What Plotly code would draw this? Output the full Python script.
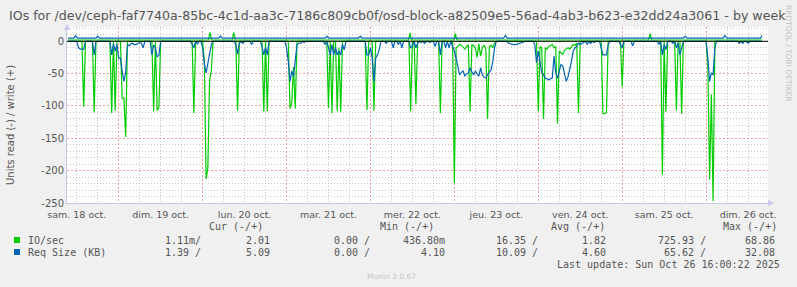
import plotly.graph_objects as go
import pandas as pd
import numpy as np

BASE = pd.Timestamp("2025-10-18 00:00")

day_labels = ["sam. 18 oct.", "dim. 19 oct.", "lun. 20 oct.", "mar. 21 oct.", "mer. 22 oct.",
              "jeu. 23 oct.", "ven. 24 oct.", "sam. 25 oct.", "dim. 26 oct."]
y_ticks = [-250, -200, -150, -100, -50, 0]

# hours since 2025-10-18 00:00, 30-minute samples; non-listed samples read as 0
io_read_hours = [14.0, 17.0, 22.0, 23.0, 25.0, 25.5, 26.0,
                 34.0, 35.0, 35.5, 45.5,
                 48.5, 49.0, 49.5, 50.0, 50.5, 58.0, 65.5, 66.5,
                 73.0, 73.5, 74.0, 74.5, 84.0, 85.0, 86.5, 87.0, 87.5,
                 95.0, 97.0, 107.5, 109.0, 116.0,
                 120.0, 120.5, 121.0, 121.5, 122.0, 122.5, 123.0, 123.5, 124.0, 124.5, 125.0, 125.5,
                 126.0, 126.5, 127.0, 127.5, 128.0, 128.5, 129.0, 129.5, 130.0, 130.5, 131.0, 131.5,
                 144.0, 144.5, 145.0, 145.5, 146.0, 146.5, 147.0, 147.5, 148.0, 148.5, 149.0, 149.5,
                 150.0, 150.5, 151.0, 151.5, 152.0, 152.5, 153.0, 153.5, 154.0, 154.5, 155.0, 155.5,
                 162.5, 163.0, 163.5, 168.0, 179.5, 180.5, 183.5, 185.0,
                 192.5, 193.0, 193.5, 194.0]
io_read_vals = [101, 110, 111, 107, 88, 88, 148,
                108, 107, 102, 111,
                30, 213, 196, 60, 45, 107, 109, 108,
                104, 95, 40, 104, 103, 111, 108, 10, 109,
                106, 107, 108, 97, 111,
                219, 10, 8, 5, 6, 10, 12, 8, 5, 108, 5, 7,
                10, 25, 4, 23, 10, 6, 12, 120, 8, 6, 10, 3,
                108, 8, 10, 120, 10, 12, 8, 6, 5, 10, 8, 127,
                15, 18, 20, 14, 12, 10, 12, 8, 5, 6, 3, 111,
                112, 112, 110, 70, 206, 109, 107, 112,
                39, 214, 82, 247]

rs_read_hours = [12.5, 13.0, 13.5, 14.0, 17.0,
                 22.0, 22.5, 23.0, 23.5, 24.0, 24.5, 25.0, 25.5, 26.0, 26.5, 27.0, 27.5, 28.0, 28.5,
                 29.0, 29.5, 30.0, 30.5, 31.0,
                 33.5, 34.0, 34.5, 35.0, 35.5, 45.0, 45.5, 46.5,
                 48.0, 48.5, 49.0, 49.5, 50.0, 50.5, 57.5, 58.0, 58.5, 59.5, 62.0,
                 65.0, 65.5, 66.0, 66.5,
                 72.0, 72.5, 73.0, 73.5, 74.0, 74.5, 75.0, 75.5, 76.0, 77.0,
                 83.0, 84.0, 84.5, 85.0, 85.5, 86.0, 86.5, 87.0, 87.5, 88.0, 88.5,
                 95.0, 95.5, 96.0, 96.5, 97.0, 97.5, 98.0, 98.5,
                 100.5, 102.5, 104.0, 105.0, 107.5, 108.0, 109.0, 109.5,
                 110.5, 111.5, 113.0, 114.5, 116.0, 117.5, 118.5,
                 119.5, 120.0, 120.5, 121.0, 121.5, 122.0, 122.5, 123.0, 123.5, 124.0, 124.5, 125.0,
                 125.5, 126.0, 126.5, 127.0, 127.5, 128.0, 128.5, 129.0, 129.5, 130.0, 130.5, 131.0, 131.5,
                 135.5, 136.0, 136.5, 137.0, 137.5, 138.0, 138.5, 139.0, 139.5,
                 143.0, 143.5, 144.0, 144.5, 145.0, 145.5, 146.0, 146.5, 147.0, 147.5, 148.0, 148.5,
                 149.0, 149.5, 150.0, 150.5, 151.0, 151.5, 152.0, 152.5, 153.0, 153.5, 154.0, 154.5,
                 155.0, 155.5, 156.0, 156.5, 157.0, 158.0, 159.0, 160.0,
                 162.0, 162.5, 163.0, 163.5, 164.0, 167.5, 168.0, 171.0,
                 178.5, 179.5, 180.0, 180.5, 182.5, 183.5, 184.0, 184.5, 185.0,
                 192.5, 193.0, 193.5, 194.0, 194.5, 201.5, 202.5, 204.0]
rs_read_vals = [10, 12, 12, 12, 21,
                21, 4, 15, 5, 26, 26, 46, 62, 49, 5, 7, 4, 3, 5,
                5, 3, 2, 3, 10,
                21, 6, 10, 24, 22, 4, 10, 4,
                10, 35, 49, 36, 20, 5, 5, 20, 3, 3, 5,
                8, 21, 10, 21,
                10, 31, 62, 46, 54, 26, 5, 3, 3, 2,
                5, 10, 21, 5, 21, 10, 21, 15, 21, 5, 13,
                21, 21, 10, 26, 62, 26, 21, 13,
                3, 10, 5, 10, 10, 8, 10, 3,
                2, 3, 2, 8, 21, 10, 10,
                8, 15, 26, 41, 52, 48, 46, 54, 50, 49, 41, 47,
                52, 46, 50, 54, 41, 52, 55, 57, 52, 48, 44, 31, 10,
                3, 4, 5, 5, 5, 4, 4, 3, 2,
                5, 33, 15, 30, 49, 52, 57, 58, 60, 58, 57, 23,
                49, 57, 45, 36, 38, 52, 62, 55, 45, 31, 15, 10,
                8, 3, 5, 3, 2, 5, 3, 2,
                10, 21, 21, 21, 5, 5, 10, 7,
                5, 21, 5, 13, 3, 10, 3, 21, 8,
                26, 62, 49, 52, 10, 3, 3, 3]

# write series (positive side), line vertices
io_write_hours = [9.5, 49.7, 50.1, 50.5, 56.5, 56.9, 57.3, 106.9, 107.3, 107.7,
                  119.9, 120.3, 120.7, 175.6, 176.0, 176.4, 208.0]
io_write_vals = [2, 2, 14, 2, 2, 14, 2, 2, 13, 2, 2, 12, 2, 2, 12, 2, 2]

rs_write_hours = [9.5, 11.2, 11.7, 12.2, 17.5, 18.0, 18.5, 52.6, 53.1, 53.6, 83.1, 83.6, 84.1,
                  92.6, 93.1, 93.6, 134.1, 134.6, 135.1, 185.5, 186.0, 186.5, 196.9, 197.4,
                  197.9, 207.6, 208.0]
rs_write_vals = [5, 5, 8.5, 5, 5, 8, 5, 5, 8, 5, 5, 8, 5,
                 5, 8, 5, 5, 9, 5, 5, 8, 5, 5, 9,
                 5, 5, 9]

legend_rows = [
    ("IO/sec", "#00CC00", ["1.11m/", "2.01", "0.00 /", "436.80m", "16.35 /", "1.82", "725.93 /", "68.86"]),
    ("Req Size (KB)", "#0066B3", ["1.39 /", "5.09", "0.00 /", "4.10", "10.09 /", "4.60", "65.62 /", "32.08"]),
]
col_headers = ["Cur (-/+)", "Min (-/+)", "Avg (-/+)", "Max (-/+)"]

# ---- build sample grid ----
grid_h = np.arange(19, 417) / 2.0


def on_grid(hours, vals):
    d = dict(zip(hours, vals))
    return np.array([d.get(h, 0.0) for h in grid_h], dtype=float)


def to_dt(hours):
    return [BASE + pd.Timedelta(hours=float(h)) for h in hours]


GREEN = "#00CC00"
BLUE = "#0066B3"

fig = go.Figure()
fig.add_trace(go.Scatter(x=to_dt(grid_h), y=-on_grid(io_read_hours, io_read_vals), mode="lines",
                         line=dict(color=GREEN, width=1.2), showlegend=False))
fig.add_trace(go.Scatter(x=to_dt(io_write_hours), y=io_write_vals, mode="lines",
                         line=dict(color=GREEN, width=1.2), showlegend=False))
fig.add_trace(go.Scatter(x=to_dt(grid_h), y=-on_grid(rs_read_hours, rs_read_vals), mode="lines",
                         line=dict(color=BLUE, width=1.2), showlegend=False))
fig.add_trace(go.Scatter(x=to_dt(rs_write_hours), y=rs_write_vals, mode="lines",
                         line=dict(color=BLUE, width=1.2), showlegend=False))

PL, PR, PT, PB = 67, 768, 27, 203
W, H = PR - PL, PB - PT


def px(x):
    return (x - PL) / W


def py(y):
    return (PB - y) / H


alias = {(BASE + pd.Timedelta(days=i)).strftime("%d"): lab for i, lab in enumerate(day_labels)}
yalias = {("\u2212" + str(-v)) if v < 0 else str(v): str(v) for v in y_ticks}

x_start = BASE + pd.Timedelta(hours=9.22)
x_end = BASE + pd.Timedelta(hours=209.7)

MGRID = "rgba(224,80,80,0.55)"
GRID = "rgba(143,143,143,0.5)"
TXT = "#555555"

fig.update_layout(
    width=797, height=287,
    margin=dict(l=PL, r=797 - PR, t=PT, b=287 - PB),
    paper_bgcolor="#F0F0F0", plot_bgcolor="#FFFFFF",
    font=dict(family="DejaVu Sans", color=TXT),
    xaxis=dict(type="date", range=[x_start, x_end], tick0=BASE, dtick=86400000,
               ticklabelmode="period", tickformat="%d", labelalias=alias,
               ticklabelstandoff=3,
               showgrid=True, gridcolor=MGRID, griddash="2px,2px", gridwidth=1,
               ticks="", tickfont=dict(size=9.5, color=TXT, family="DejaVu Sans"),
               showline=True, linecolor="#C8C8E8", linewidth=1, zeroline=False,
               minor=dict(tick0=BASE, dtick=6 * 3600000, showgrid=True, gridcolor=GRID,
                          griddash="1px,2px", gridwidth=1),
               fixedrange=True),
    yaxis=dict(range=[-250, 22.1], tick0=0, dtick=50, labelalias=yalias,
               showgrid=True, gridcolor=MGRID, griddash="2px,2px", gridwidth=1,
               ticks="", tickfont=dict(size=10, color=TXT, family="DejaVu Sans"),
               showline=True, linecolor="#C8C8E8", linewidth=1,
               zeroline=False,
               minor=dict(tick0=0, dtick=10, showgrid=True, gridcolor=GRID,
                          griddash="1px,2px", gridwidth=1),
               fixedrange=True),
)

shapes = [
    dict(type="line", xref="paper", yref="y", x0=0, x1=1, y0=0, y1=0,
         line=dict(color="black", width=1), layer="above"),
    # axis arrows
    dict(type="path", xref="paper", yref="paper",
         path=f"M {px(768)} {py(200)} L {px(774)} {py(203)} L {px(768)} {py(206)} Z",
         fillcolor="#C8C8F0", line=dict(width=0)),
    dict(type="path", xref="paper", yref="paper",
         path=f"M {px(64)} {py(30)} L {px(67)} {py(24)} L {px(70)} {py(30)} Z",
         fillcolor="#C8C8F0", line=dict(width=0)),
]
ann = []
# title
ann.append(dict(text="IOs for /dev/ceph-faf7740a-85bc-4c1d-aa3c-7186c809cb0f/osd-block-a82509e5-56ad-4ab3-b623-e32dd24a3061 - by week",
                x=px(397), y=py(15), xref="paper", yref="paper", showarrow=False,
                xanchor="center", yanchor="middle", font=dict(size=12.6, color=TXT, family="DejaVu Sans")))
# y title
ann.append(dict(text="Units read (-) / write (+)", x=px(10), y=py(125), xref="paper", yref="paper",
                showarrow=False, textangle=-90, xanchor="center", yanchor="middle",
                font=dict(size=10, color=TXT, family="DejaVu Sans")))
# rrdtool watermark
ann.append(dict(text="RRDTOOL / TOBI OETIKER", x=px(789), y=py(53), xref="paper", yref="paper",
                showarrow=False, textangle=90, xanchor="center", yanchor="middle",
                font=dict(size=7.5, color="#C4C4C4", family="DejaVu Sans")))
ann.append(dict(text="Munin 2.0.67", x=px(391), y=py(276), xref="paper", yref="paper",
                showarrow=False, xanchor="center", yanchor="middle",
                font=dict(size=7.5, color="#C4C4C4", family="DejaVu Sans")))

MONO = dict(family="DejaVu Sans Mono", size=10, color=TXT)
header_centers = [236, 407, 578, 750]
for hx, htxt in zip(header_centers, col_headers):
    ann.append(dict(text=htxt, x=px(hx), y=py(227), xref="paper", yref="paper", showarrow=False,
                    xanchor="center", yanchor="middle", font=MONO))
col_right = [203, 272, 372, 447, 540, 608, 708, 777]
row_y = [240, 252]
for (name, color, vals), ry in zip(legend_rows, row_y):
    shapes.append(dict(type="rect", xref="paper", yref="paper", x0=px(14), x1=px(20),
                       y0=py(ry - 3), y1=py(ry + 3), fillcolor=color, line=dict(width=0)))
    ann.append(dict(text=name, x=px(26), y=py(ry), xref="paper", yref="paper", showarrow=False,
                    xanchor="left", yanchor="middle", font=MONO))
    for cx, v in zip(col_right, vals):
        ann.append(dict(text=v, x=px(cx), y=py(ry), xref="paper", yref="paper", showarrow=False,
                        xanchor="right", yanchor="middle", font=MONO))
ann.append(dict(text="Last update: Sun Oct 26 16:00:22 2025", x=px(782), y=py(264), xref="paper",
                yref="paper", showarrow=False, xanchor="right", yanchor="middle", font=MONO))

fig.update_layout(shapes=shapes, annotations=ann)
fig.write_html("out.html")
